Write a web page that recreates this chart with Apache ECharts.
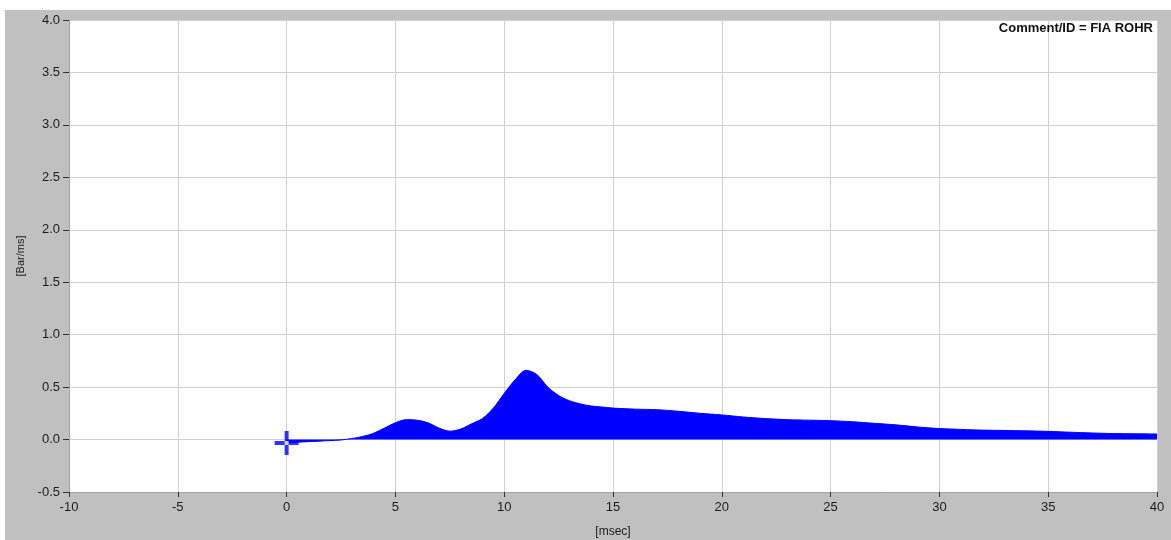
<!DOCTYPE html>
<html><head><meta charset="utf-8">
<script src="https://cdn.jsdelivr.net/npm/echarts@6/dist/echarts.min.js"></script>
<style>html,body{margin:0;padding:0;background:#fff;}#c{width:1171px;height:540px;}</style>
</head><body><div id="c"></div>
<script>
const timeMs = [0,0.5,1,1.5,2,2.5,3,3.5,4,4.5,5,5.5,6,6.5,7,7.5,8,8.5,9,9.5,10,10.5,11,11.5,12,12.5,13,13.5,14,14.5,15,16,17,18,19,20,21,22,23,24,25,26,27,28,29,30,31,32,33,34,35,36,37,38,39,40];
const rohr = [-0.03,-0.025,-0.02,-0.015,-0.01,-0.004,0.01,0.03,0.06,0.11,0.16,0.19,0.185,0.16,0.11,0.08,0.1,0.15,0.2,0.3,0.44,0.57,0.66,0.62,0.5,0.42,0.37,0.34,0.32,0.31,0.3,0.29,0.285,0.27,0.25,0.235,0.215,0.2,0.19,0.185,0.18,0.17,0.155,0.14,0.12,0.105,0.097,0.09,0.087,0.083,0.078,0.07,0.063,0.057,0.055,0.053];
const cursor = [[0,-0.033]];
const xTicks = {min:-10,max:40,interval:5};
const yTicks = {min:-0.5,max:4.0,interval:0.5};
const commentText = 'Comment/ID = FIA ROHR';

const chart = echarts.init(document.getElementById('c'), null, {renderer:'canvas'});
const font = 'Liberation Sans, Arial, sans-serif';
chart.setOption({
  backgroundColor:'#ffffff',
  animation:false,
  graphic:[
    {type:'rect', z:-10, shape:{x:5,y:10,width:1166,height:530}, style:{fill:'#c0c0c0'}},
    {type:'text', right:18, top:22, z:10, style:{text:commentText, font:'bold 13px '+font, fill:'#111'}}
  ],
  grid:{left:69,top:20,right:14,bottom:48,show:true,backgroundColor:'#ffffff',borderWidth:0,containLabel:false,outerBoundsMode:'none'},
  xAxis:{type:'value',min:xTicks.min,max:xTicks.max,interval:xTicks.interval,
    name:'[msec]',nameLocation:'middle',nameGap:34,
    nameTextStyle:{fontFamily:font,fontSize:12,color:'#1c1c1c'},
    axisLine:{show:true,onZero:false,lineStyle:{color:'#a0a0a0'}},
    axisTick:{show:true,length:5,lineStyle:{color:'#333'}},
    axisLabel:{fontFamily:font,fontSize:13,color:'#1c1c1c',margin:9},
    splitLine:{show:true,lineStyle:{color:'#d0d0d0',width:1}}},
  yAxis:{type:'value',min:yTicks.min,max:yTicks.max,interval:yTicks.interval,
    name:'[Bar/ms]',nameLocation:'middle',nameGap:41,
    nameTextStyle:{fontFamily:font,fontSize:11,color:'#1c1c1c'},
    axisLine:{show:true,onZero:false,lineStyle:{color:'#a0a0a0'}},
    axisTick:{show:true,length:6,lineStyle:{color:'#333'}},
    axisLabel:{fontFamily:font,fontSize:13,color:'#1c1c1c',margin:9,formatter:v=>v.toFixed(1)},
    splitLine:{show:true,lineStyle:{color:'#d0d0d0',width:1}}},
  series:[
    {type:'line',data:timeMs.map((t,i)=>[t,rohr[i]]),symbol:'none',smooth:0.3,
     lineStyle:{color:'#0000ff',width:1},areaStyle:{color:'#0000ff',opacity:1,origin:0}},
    {type:'scatter',data:cursor,symbol:'path://M10,0 H14 V10 H24 V14 H14 V24 H10 V14 H0 V10 H10 Z',
     symbolSize:[24,24],itemStyle:{color:'#0000ff'},z:5},
    {type:'scatter',data:cursor,symbol:'rect',symbolSize:[4,4],itemStyle:{color:'#ffffff'},z:6}
  ]
});
</script></body></html>
